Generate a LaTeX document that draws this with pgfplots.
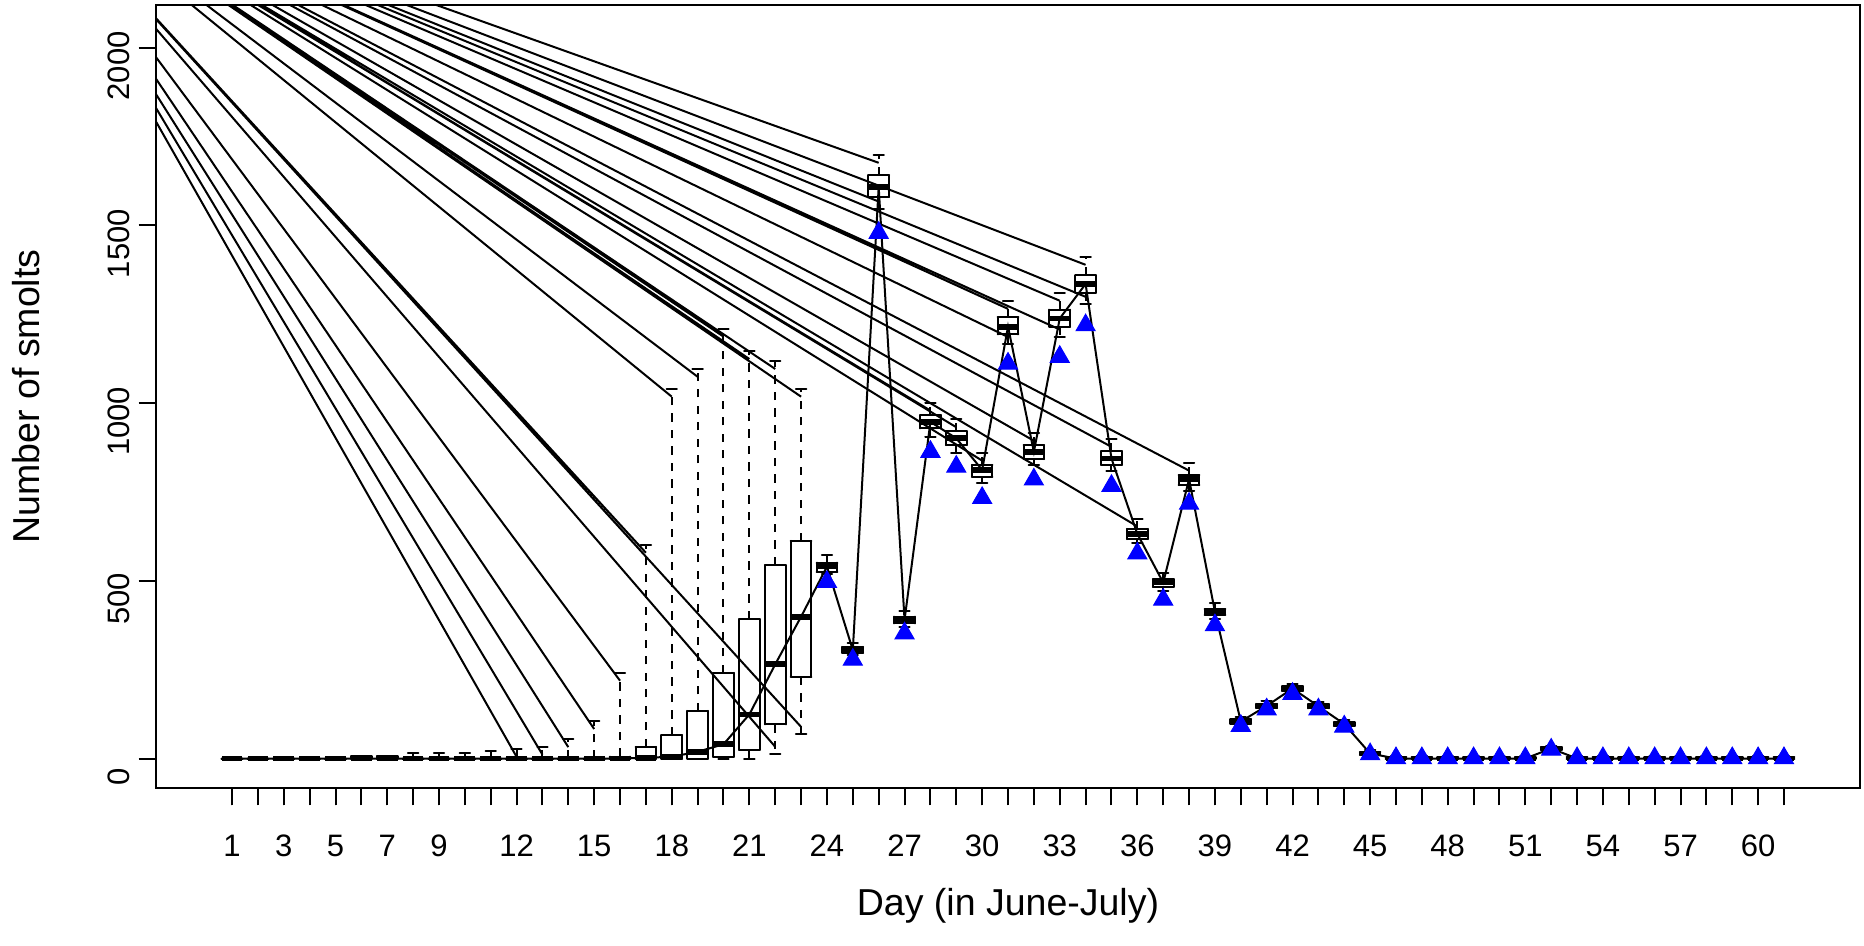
\documentclass[border=0pt]{standalone}
\usepackage{pgfplots}
\pgfplotsset{compat=1.18}
\usepackage{pgfplotstable}
\usepackage{fontspec}
\setmainfont{Liberation Sans}

% boxplot summaries per day: lower whisker, quartiles, median, upper whisker
\pgfplotstableread{
d lw qa med qb uw
1 0 0 0 0 0
2 0 0 0 0 0
3 0 0 0 0 0
4 0 0 0 0 0
5 0 0 0 0 0
6 0 0 0 6 8
7 0 0 0 6 8
8 0 0 0 0 16
9 0 0 0 0 16
10 0 0 0 0 16
11 0 0 0 0 22
12 0 0 0 0 27
13 0 0 0 0 33
14 0 0 0 0 54
15 0 0 0 0 105
16 0 0 0 5 241
17 0 0 2 33 601
18 0 0 5 66 1040
19 0 0 19 134 1096
20 0 5 40 241 1209
21 0 24 124 392 1146
22 12 96 265 544 1118
23 68 230 399 612 1040
24 518 525 540 551 572
25 291 297 305 314 324
26 1546 1580 1608 1641 1698
27 371 380 390 399 415
28 904 929 947 966 1001
29 860 882 901 921 954
30 776 793 812 826 860
31 1165 1193 1215 1241 1287
32 826 842 863 882 916
33 1186 1215 1238 1263 1310
34 1278 1311 1335 1359 1411
35 810 826 844 865 899
36 605 617 632 646 675
37 471 483 495 505 523
38 753 769 786 797 832
39 393 405 413 420 438
40 92 98 104 110 118
41 135 142 148 154 162
42 183 190 197 203 210
43 135 141 147 153 160
44 86 92 97 102 108
45 6 10 14 18 23
46 0 0 0 3 6
47 0 0 0 3 6
48 0 0 0 3 6
49 0 0 0 3 6
50 0 0 0 3 6
51 0 0 0 3 6
52 20 24 28 32 36
53 0 0 0 3 6
54 0 0 0 3 6
55 0 0 0 3 6
56 0 0 0 3 6
57 0 0 0 3 6
58 0 0 0 3 6
59 0 0 0 3 6
60 0 0 0 3 6
61 0 0 0 3 6
}\boxes

% observed counts
\pgfplotstableread{
d t
24 497
25 278
26 1479
27 352
28 863
29 821
30 733
31 1111
32 785
33 1130
34 1219
35 767
36 577
37 447
38 717
39 375
40 92
41 138
42 182
43 138
44 90
45 12
46 1
47 1
48 1
49 1
50 1
51 1
52 25
53 1
54 1
55 1
56 1
57 1
58 1
59 1
60 1
61 1
}\obs

\begin{document}
\begin{tikzpicture}
\begin{axis}[
    scale only axis,
    width=681.6pt, height=313.2pt,
    xmin=-1.94, xmax=63.94,
    ymin=-83, ymax=2120,
    axis line style={line width=0.8pt},
    tick align=outside,
    xtick pos=bottom, ytick pos=left,
    xtick={1,3,5,7,9,12,15,18,21,24,27,30,33,36,39,42,45,48,51,54,57,60},
    minor xtick={1,...,61},
    ytick={0,500,1000,1500,2000},
    major tick length=6.9pt, minor tick length=6.9pt,
    major tick style={black, line width=0.8pt},
    minor tick style={black, line width=0.8pt},
    /pgf/number format/assume math mode=true,
    /pgf/number format/1000 sep={},
    ticklabel style={font=\fontsize{12.4}{15}\selectfont},
    yticklabel style={rotate=90, anchor=south, xshift=-7.3pt},
    xticklabel style={anchor=north, yshift=-8.4pt},
    label style={font=\fontsize{15}{18}\selectfont},
    xlabel={Day (in June-July)},
    ylabel={Number of smolts},
    every axis x label/.append style={at={(axis description cs:0.5,-0.151)}, anchor=center},
    every axis y label/.append style={at={(axis description cs:-0.076,0.5)}, anchor=center},
    eb/.style={draw=none, mark=none, forget plot, error bars/error mark=none,
        error bars/error bar style={draw=black, solid, line width=0.8pt, line cap=round}},
]

% stray whisker segments running off the top left
\addplot[black, line width=0.8pt, unbounded coords=jump] coordinates {
(-7.9,2556) (12,5) (12,nan)
(-7.9,2556) (13,11) (13,nan)
(-7.9,2556) (14,32) (14,nan)
(-7.9,2556) (15,83) (15,nan)
(-7.9,2556) (16,219) (16,nan)
(-7.9,2556) (17,579) (17,nan)
(-7.9,2556) (18,1018) (18,nan)
(-7.9,2556) (19,1074) (19,nan)
(-7.9,2556) (20,1187) (20,nan)
(-7.9,2556) (21,1124) (21,nan)
(-7.9,2556) (22,1096) (22,nan)
(-7.9,2556) (23,1018) (23,nan)
(-7.9,2556) (26,1676) (26,nan)
(-7.9,2556) (28,979) (28,nan)
(-7.9,2556) (29,932) (29,nan)
(-7.9,2556) (30,838) (30,nan)
(-7.9,2556) (31,1265) (31,nan)
(-7.9,2556) (32,894) (32,nan)
(-7.9,2556) (33,1288) (33,nan)
(-7.9,2556) (34,1389) (34,nan)
(-7.9,2556) (35,877) (35,nan)
(-7.9,2556) (36,653) (36,nan)
(-7.9,2556) (38,810) (38,nan)
(-7.9,2556) (22,33) (22,nan)
(-7.9,2556) (23,89) (23,nan)
(-7.9,2556) (26,1567) (26,nan)
(-7.9,2556) (31,1186) (31,nan)
(-7.9,2556) (33,1207) (33,nan)
(-7.9,2556) (34,1299) (34,nan)
};

% line through the medians
\addplot[black, line width=0.8pt, no marks] table[x=d, y=med] {\boxes};

% whiskers (dashed)
\addplot[eb, error bars/.cd, y dir=plus, y explicit,
    error bar style={dash pattern=on 3.3pt off 3.3pt, line cap=butt}]
    table[x=d, y=qb, y error plus expr=\thisrow{uw}-\thisrow{qb}] {\boxes};
\addplot[eb, error bars/.cd, y dir=minus, y explicit,
    error bar style={dash pattern=on 3.3pt off 3.3pt, line cap=butt}]
    table[x=d, y=qa, y error minus expr=\thisrow{qa}-\thisrow{lw}] {\boxes};

% staples
\addplot[eb, error bars/.cd, x dir=both, x fixed=0.2] table[x=d, y=uw] {\boxes};
\addplot[eb, error bars/.cd, x dir=both, x fixed=0.2] table[x=d, y=lw] {\boxes};

% boxes: bottom, top, left, right
\addplot[eb, error bars/.cd, x dir=both, x fixed=0.4] table[x=d, y=qa] {\boxes};
\addplot[eb, error bars/.cd, x dir=both, x fixed=0.4] table[x=d, y=qb] {\boxes};
\addplot[eb, error bars/.cd, y dir=plus, y explicit]
    table[x expr=\thisrow{d}-0.4, y=qa, y error plus expr=\thisrow{qb}-\thisrow{qa}] {\boxes};
\addplot[eb, error bars/.cd, y dir=plus, y explicit]
    table[x expr=\thisrow{d}+0.4, y=qa, y error plus expr=\thisrow{qb}-\thisrow{qa}] {\boxes};

% medians
\addplot[eb, error bars/.cd, x dir=both, x fixed=0.4,
    error bar style={line width=2.3pt, line cap=butt}] table[x=d, y=med] {\boxes};

% observed
\addplot[only marks, mark=triangle*, mark size=4.4pt, color=blue, mark options={fill=blue, draw=blue}] table[x=d, y=t] {\obs};

\end{axis}
\pgfresetboundingbox
\path ([shift={(-62.4pt,-62.8pt)}]current axis.south west) rectangle ([shift={(1.6pt,2pt)}]current axis.north east);
\end{tikzpicture}
\end{document}
